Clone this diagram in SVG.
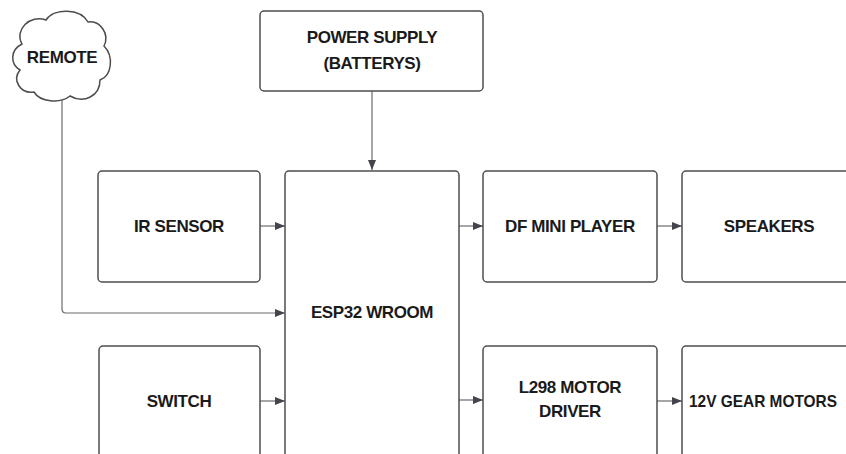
<svg xmlns="http://www.w3.org/2000/svg" width="846" height="454" viewBox="0 0 846 454">
<style>
.box{fill:#fff;stroke:#4d4d4d;stroke-width:1.5}
.lbl{font-family:"Liberation Sans",Arial,sans-serif;font-weight:bold;font-size:17px;letter-spacing:-0.4px;fill:#1a1a1a;text-anchor:middle}
.con{fill:none;stroke:#6b6b70;stroke-width:1.2}
</style>
<defs>
<marker id="ah" markerUnits="userSpaceOnUse" markerWidth="10" markerHeight="10" viewBox="0 0 10 10" refX="10" refY="5" orient="auto">
<path d="M0 1 L10 5 L0 9 Z" fill="#44444c"/>
</marker>
</defs>
<rect width="846" height="454" fill="#fff"/>
<g id="connectors">
<line class="con" x1="372" y1="91" x2="372" y2="170" marker-end="url(#ah)"/>
<line class="con" x1="260" y1="226" x2="285" y2="226" marker-end="url(#ah)"/>
<line class="con" x1="459" y1="226" x2="483" y2="226" marker-end="url(#ah)"/>
<line class="con" x1="657" y1="226" x2="682" y2="226" marker-end="url(#ah)"/>
<path class="con" d="M62 100 L62 309 Q62 313 66 313 L285 313" stroke="#8a8a8a" marker-end="url(#ah)"/>
<line class="con" x1="260" y1="401" x2="285" y2="401" marker-end="url(#ah)"/>
<line class="con" x1="459" y1="400" x2="483" y2="400" marker-end="url(#ah)"/>
<line class="con" x1="657" y1="401" x2="682" y2="401" marker-end="url(#ah)"/>
</g>
<g id="remote">
<path class="box" d="M22 44 C14 30 30 14 46 20 C54 8 80 8 88 22 C100 20 110 34 104 46 C114 56 112 76 100 80 C100 96 84 104 70 96 C60 104 40 102 34 92 C20 94 12 80 20 70 C10 64 10 50 22 44 Z"/>
<text class="lbl" x="62" y="63">REMOTE</text>
</g>
<g id="power">
<rect class="box" x="260" y="11" width="223" height="80" rx="4"/>
<text class="lbl" x="372" y="43">POWER SUPPLY</text>
<text class="lbl" x="372" y="69">(BATTERYS)</text>
</g>
<g id="ir">
<rect class="box" x="98" y="171" width="162" height="111" rx="4"/>
<text class="lbl" x="179" y="232">IR SENSOR</text>
</g>
<g id="esp">
<rect class="box" x="285" y="171" width="174" height="300" rx="4"/>
<text class="lbl" x="372" y="318">ESP32 WROOM</text>
</g>
<g id="df">
<rect class="box" x="483" y="171" width="174" height="111" rx="4"/>
<text class="lbl" x="570" y="232">DF MINI PLAYER</text>
</g>
<g id="speakers">
<rect class="box" x="682" y="171" width="174" height="111" rx="4"/>
<text class="lbl" x="769" y="232">SPEAKERS</text>
</g>
<g id="switch">
<rect class="box" x="99" y="346" width="161" height="130" rx="4"/>
<text class="lbl" x="179" y="407">SWITCH</text>
</g>
<g id="l298">
<rect class="box" x="483" y="346" width="174" height="130" rx="4"/>
<text class="lbl" x="570" y="393">L298 MOTOR</text>
<text class="lbl" x="570" y="417">DRIVER</text>
</g>
<g id="gear">
<rect class="box" x="682" y="346" width="174" height="130" rx="4"/>
<text class="lbl" x="689" y="407" style="text-anchor:start;letter-spacing:0" textLength="148" lengthAdjust="spacingAndGlyphs">12V GEAR MOTORS</text>
</g>
</svg>
